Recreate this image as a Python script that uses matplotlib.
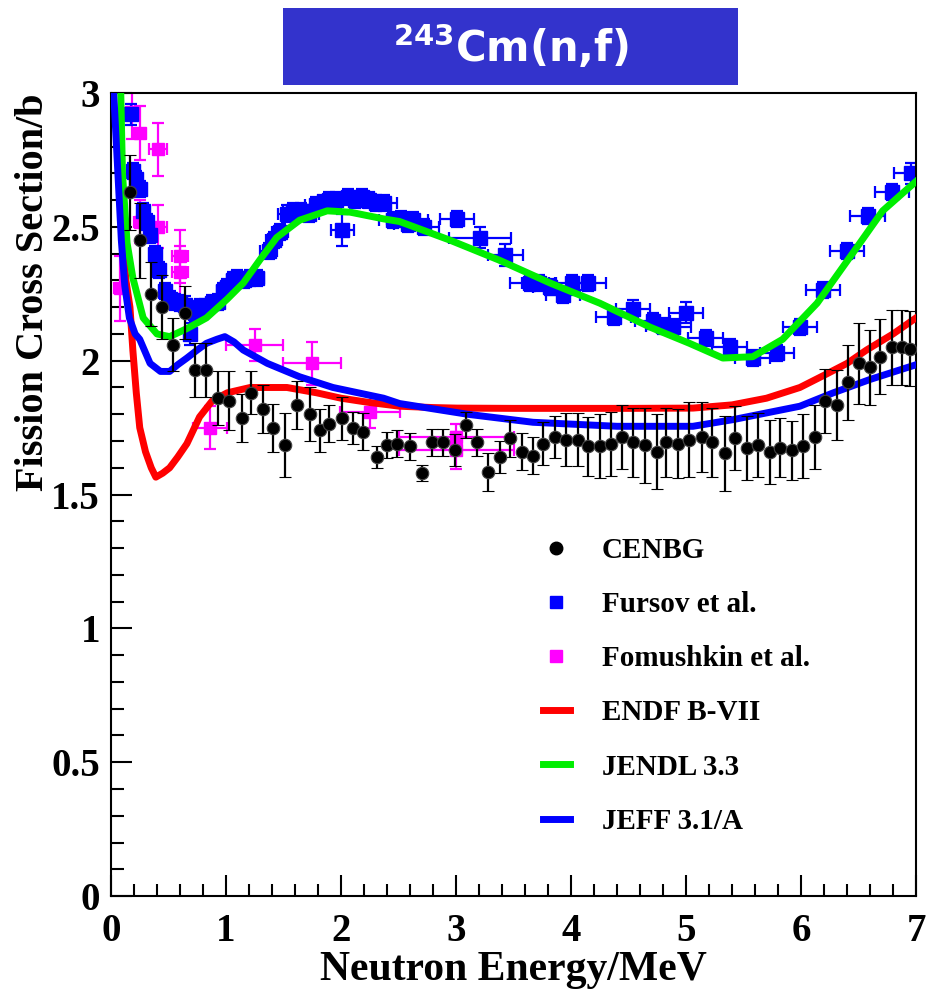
import matplotlib
matplotlib.use("Agg")
import matplotlib.pyplot as plt
from matplotlib.lines import Line2D
from matplotlib.patches import Rectangle
from matplotlib.ticker import MultipleLocator

# ---------------- data ----------------
cenbg_x = [0.165, 0.25, 0.35, 0.44, 0.54, 0.64, 0.73, 0.83, 0.93, 1.03, 1.14, 1.22, 1.32, 1.41,
           1.51, 1.62, 1.73, 1.82, 1.90, 2.01, 2.10, 2.19, 2.31, 2.40, 2.49, 2.60, 2.70, 2.79,
           2.89, 2.99, 3.09, 3.18, 3.28, 3.38, 3.47, 3.57, 3.67, 3.76, 3.86, 3.96, 4.06, 4.15,
           4.25, 4.35, 4.44, 4.54, 4.64, 4.75, 4.83, 4.93, 5.03, 5.14, 5.23, 5.34, 5.43, 5.53,
           5.63, 5.73, 5.82, 5.92, 6.02, 6.12, 6.21, 6.31, 6.41, 6.50, 6.60, 6.69, 6.79, 6.88, 6.95]
cenbg_y = [2.63, 2.45, 2.25, 2.20, 2.06, 2.18, 1.965, 1.965, 1.86, 1.85, 1.785, 1.88, 1.82, 1.75,
           1.685, 1.835, 1.80, 1.74, 1.765, 1.785, 1.75, 1.735, 1.64, 1.685, 1.69, 1.68, 1.58, 1.695,
           1.695, 1.665, 1.76, 1.695, 1.585, 1.64, 1.71, 1.66, 1.645, 1.69, 1.715, 1.705, 1.705, 1.68,
           1.68, 1.69, 1.715, 1.695, 1.685, 1.66, 1.695, 1.69, 1.705, 1.715, 1.695, 1.655, 1.71, 1.675,
           1.685, 1.66, 1.675, 1.665, 1.68, 1.715, 1.85, 1.835, 1.92, 1.99, 1.975, 2.015, 2.05, 2.05, 2.045]
cenbg_err = [0.14, 0.14, 0.12, 0.12, 0.10, 0.10, 0.10, 0.10, 0.10, 0.11, 0.09, 0.08, 0.09, 0.09,
             0.12, 0.09, 0.10, 0.08, 0.07, 0.08, 0.06, 0.07, 0.04, 0.05, 0.05, 0.05, 0.03, 0.05,
             0.05, 0.06, 0.05, 0.05, 0.07, 0.06, 0.07, 0.07, 0.07, 0.08, 0.08, 0.10, 0.10, 0.11,
             0.12, 0.12, 0.12, 0.13, 0.14, 0.14, 0.13, 0.13, 0.14, 0.13, 0.13, 0.14, 0.12, 0.12,
             0.12, 0.12, 0.11, 0.11, 0.12, 0.12, 0.12, 0.13, 0.14, 0.15, 0.14, 0.14, 0.14, 0.14, 0.14]

fursov_x = [0.17, 0.19, 0.22, 0.25, 0.28, 0.31, 0.34, 0.38, 0.42, 0.47, 0.51, 0.56, 0.60, 0.64,
            0.69, 0.73, 0.77, 0.82, 0.88, 0.93, 0.97, 1.01, 1.06, 1.10, 1.16, 1.21, 1.27, 1.37,
            1.42, 1.47, 1.53, 1.58, 1.65, 1.72, 1.78, 1.84, 1.90, 1.96, 2.01, 2.06, 2.12, 2.18,
            2.24, 2.30, 2.37, 2.45, 2.52, 2.58, 2.63, 2.72, 3.01, 3.21, 3.43, 3.64, 3.72, 3.82,
            3.93, 4.01, 4.15, 4.37, 4.54, 4.71, 4.80, 4.89, 5.00, 5.17, 5.38, 5.58, 5.79, 5.99,
            6.19, 6.40, 6.58, 6.79, 6.96]
fursov_y = [2.92, 2.71, 2.68, 2.64, 2.56, 2.52, 2.47, 2.40, 2.34, 2.26, 2.23, 2.22, 2.215, 2.21,
            2.10, 2.18, 2.20, 2.20, 2.215, 2.22, 2.26, 2.275, 2.30, 2.31, 2.30, 2.31, 2.31, 2.41,
            2.45, 2.48, 2.55, 2.56, 2.56, 2.55, 2.58, 2.59, 2.60, 2.60, 2.49, 2.61, 2.60, 2.61,
            2.60, 2.59, 2.59, 2.525, 2.53, 2.51, 2.525, 2.50, 2.53, 2.46, 2.395, 2.29, 2.29, 2.275,
            2.245, 2.29, 2.29, 2.165, 2.195, 2.15, 2.13, 2.125, 2.18, 2.085, 2.05, 2.01, 2.03, 2.125,
            2.265, 2.41, 2.54, 2.63, 2.70]
fursov_xerr = [0.02, 0.02, 0.02, 0.02, 0.02, 0.02, 0.02, 0.02, 0.03, 0.03, 0.03, 0.03, 0.03, 0.03,
               0.04, 0.04, 0.04, 0.04, 0.04, 0.04, 0.05, 0.05, 0.05, 0.05, 0.06, 0.06, 0.06, 0.07,
               0.07, 0.07, 0.08, 0.08, 0.08, 0.09, 0.09, 0.09, 0.10, 0.10, 0.10, 0.10, 0.10, 0.11,
               0.11, 0.11, 0.12, 0.12, 0.12, 0.12, 0.13, 0.13, 0.15, 0.27, 0.15, 0.17, 0.15, 0.15,
               0.15, 0.15, 0.15, 0.15, 0.15, 0.15, 0.15, 0.15, 0.15, 0.15, 0.15, 0.15, 0.15, 0.15,
               0.15, 0.15, 0.15, 0.15, 0.15]
fursov_yerr = [0.04, 0.03, 0.03, 0.03, 0.03, 0.03, 0.03, 0.03, 0.03, 0.03, 0.03, 0.03, 0.03, 0.03,
               0.04, 0.03, 0.03, 0.03, 0.03, 0.03, 0.03, 0.03, 0.03, 0.03, 0.03, 0.03, 0.03, 0.03,
               0.03, 0.03, 0.03, 0.03, 0.03, 0.03, 0.03, 0.03, 0.03, 0.03, 0.06, 0.03, 0.03, 0.03,
               0.03, 0.03, 0.03, 0.03, 0.03, 0.03, 0.03, 0.03, 0.03, 0.04, 0.04, 0.03, 0.03, 0.03,
               0.03, 0.03, 0.03, 0.03, 0.03, 0.03, 0.03, 0.03, 0.04, 0.03, 0.03, 0.03, 0.03, 0.03,
               0.03, 0.03, 0.03, 0.03, 0.04]

fom_x = [0.08, 0.18, 0.25, 0.25, 0.41, 0.41, 0.60, 0.60, 0.86, 1.25, 1.75, 2.25, 3.00, 3.00]
fom_y = [2.27, 2.93, 2.85, 2.52, 2.79, 2.50, 2.39, 2.33, 1.75, 2.06, 1.99, 1.81, 1.715, 1.665]
fom_xerr = [0.05, 0.05, 0.05, 0.05, 0.08, 0.08, 0.07, 0.07, 0.15, 0.25, 0.25, 0.26, 0.50, 0.50]
fom_yerr = [0.12, 0.10, 0.10, 0.08, 0.10, 0.08, 0.10, 0.10, 0.08, 0.06, 0.08, 0.06, 0.05, 0.07]

endf_x = [0.07, 0.10, 0.13, 0.165, 0.19, 0.22, 0.25, 0.30, 0.35, 0.39, 0.45, 0.51, 0.58, 0.66,
          0.77, 0.88, 1.01, 1.21, 1.53, 1.79, 2.00, 2.23, 2.51, 2.80, 3.01, 3.50, 4.00, 4.50,
          5.06, 5.40, 5.70, 5.99, 6.22, 6.40, 6.57, 6.80, 7.00]
endf_y = [2.70, 2.45, 2.30, 2.20, 2.04, 1.88, 1.75, 1.66, 1.60, 1.565, 1.58, 1.60, 1.64, 1.69,
          1.79, 1.85, 1.88, 1.90, 1.90, 1.88, 1.86, 1.845, 1.83, 1.825, 1.823, 1.822, 1.822, 1.822,
          1.823, 1.835, 1.86, 1.90, 1.95, 1.99, 2.04, 2.10, 2.16]

jendl_x = [0.085, 0.10, 0.14, 0.19, 0.28, 0.40, 0.51, 0.66, 0.83, 1.01, 1.15, 1.30, 1.44, 1.64,
           1.88, 2.08, 2.37, 2.51, 2.95, 3.38, 3.82, 4.25, 4.69, 5.03, 5.32, 5.58, 5.84, 6.14,
           6.43, 6.71, 7.00]
jendl_y = [3.00, 2.70, 2.44, 2.31, 2.16, 2.10, 2.09, 2.12, 2.16, 2.23, 2.29, 2.38, 2.46, 2.525,
           2.56, 2.555, 2.53, 2.52, 2.45, 2.375, 2.29, 2.215, 2.125, 2.065, 2.01, 2.015, 2.08, 2.215,
           2.39, 2.56, 2.67]

jeff_x = [0.00, 0.03, 0.06, 0.09, 0.12, 0.16, 0.21, 0.25, 0.34, 0.43, 0.51, 0.58, 0.66, 0.75,
          0.83, 0.92, 0.99, 1.07, 1.15, 1.36, 1.64, 1.93, 2.37, 2.51, 3.10, 3.67, 4.40, 5.06,
          5.41, 5.99, 6.28, 6.60, 7.00]
jeff_y = [3.15, 2.95, 2.70, 2.45, 2.28, 2.16, 2.10, 2.08, 1.99, 1.96, 1.96, 1.985, 2.01, 2.04,
          2.065, 2.08, 2.09, 2.07, 2.04, 1.99, 1.94, 1.90, 1.86, 1.84, 1.80, 1.77, 1.755, 1.755,
          1.78, 1.83, 1.88, 1.93, 1.985]

x_ticks = [0, 1, 2, 3, 4, 5, 6, 7]
y_ticks = [0, 0.5, 1, 1.5, 2, 2.5, 3]
y_tick_labels = ["0", "0.5", "1", "1.5", "2", "2.5", "3"]

# ---------------- figure ----------------
fig = plt.figure(figsize=(9.28, 9.90), dpi=100)
ax = fig.add_axes([0.1196, 0.0949, 0.8675, 0.8111])

serif = ["Liberation Serif", "DejaVu Serif"]

BLUE = "#0000ff"
MAG = "#ff00ff"
RED = "#ff0000"
GREEN = "#00ee00"

ax.errorbar(fom_x, fom_y, xerr=fom_xerr, yerr=fom_yerr, fmt="s", color=MAG, ms=9,
            mec=MAG, elinewidth=1.6, capsize=4, capthick=1.6, zorder=2)
ax.errorbar(fursov_x, fursov_y, xerr=fursov_xerr, yerr=fursov_yerr, fmt="s", color=BLUE,
            ms=10, mec=BLUE, elinewidth=1.6, capsize=4, capthick=1.6, zorder=2)

ax.plot(endf_x, endf_y, color=RED, lw=5, zorder=3, solid_joinstyle="round")
ax.plot(jendl_x, jendl_y, color=GREEN, lw=5, zorder=3, solid_joinstyle="round")
ax.plot(jeff_x, jeff_y, color=BLUE, lw=5, zorder=3, solid_joinstyle="round")

ax.errorbar(cenbg_x, cenbg_y, yerr=cenbg_err, fmt="o", color="black", ms=9, mec="#444444",
            mew=0.8, elinewidth=1.6, capsize=4.5, capthick=1.6, zorder=4)

ax.set_xlim(0, 7)
ax.set_ylim(0, 3)
ax.set_xticks(x_ticks)
ax.set_yticks(y_ticks)
ax.set_yticklabels(y_tick_labels)
ax.xaxis.set_minor_locator(MultipleLocator(0.2))
ax.yaxis.set_minor_locator(MultipleLocator(0.1))
ax.tick_params(which="both", direction="in", top=False, right=False, width=1.5)
ax.tick_params(which="major", length=15)
ax.tick_params(which="minor", length=9)
ax.tick_params(axis="x", pad=12)
ax.tick_params(axis="y", pad=8)
for lab in ax.get_xticklabels() + ax.get_yticklabels():
    lab.set_fontfamily(serif)
    lab.set_fontweight("bold")
    lab.set_fontsize(28)
for sp in ax.spines.values():
    sp.set_linewidth(1.5)

ax.set_xlabel("Neutron Energy/MeV", fontsize=30, fontweight="bold", family=serif)
ax.xaxis.set_label_coords(0.5, -0.069)
ax.set_ylabel("Fission Cross Section/b", fontsize=29, fontweight="bold", family=serif, loc="top")
ax.yaxis.set_label_coords(-0.073, 1.0)

# legend
handles = [
    Line2D([], [], ls="none", marker="o", color="black", ms=9),
    Line2D([], [], ls="none", marker="s", color=BLUE, ms=9),
    Line2D([], [], ls="none", marker="s", color=MAG, ms=9),
    Line2D([], [], color=RED, lw=5),
    Line2D([], [], color=GREEN, lw=5),
    Line2D([], [], color=BLUE, lw=5),
]
labels = ["CENBG", "Fursov et al.", "Fomushkin et al.", "ENDF B-VII", "JENDL 3.3", "JEFF 3.1/A"]
ax.legend(handles, labels, loc="upper left", bbox_to_anchor=(0.537, 0.447), frameon=False,
          prop={"family": serif, "weight": "bold", "size": 21}, handlelength=0.9,
          handletextpad=1.1, labelspacing=0.93, borderpad=0, borderaxespad=0)

# title box
fig.patches.append(Rectangle((283 / 928, 1 - 85 / 990), 455 / 928, 77 / 990,
                             transform=fig.transFigure, facecolor="#3333cc", edgecolor="none"))
fig.text(0.551, 1 - 47 / 990, r"$^{\mathbf{243}}$Cm(n,f)", color="white", fontsize=30,
         fontweight="bold", ha="center", va="center", family="DejaVu Sans")

fig.savefig("out.png", dpi=100)
